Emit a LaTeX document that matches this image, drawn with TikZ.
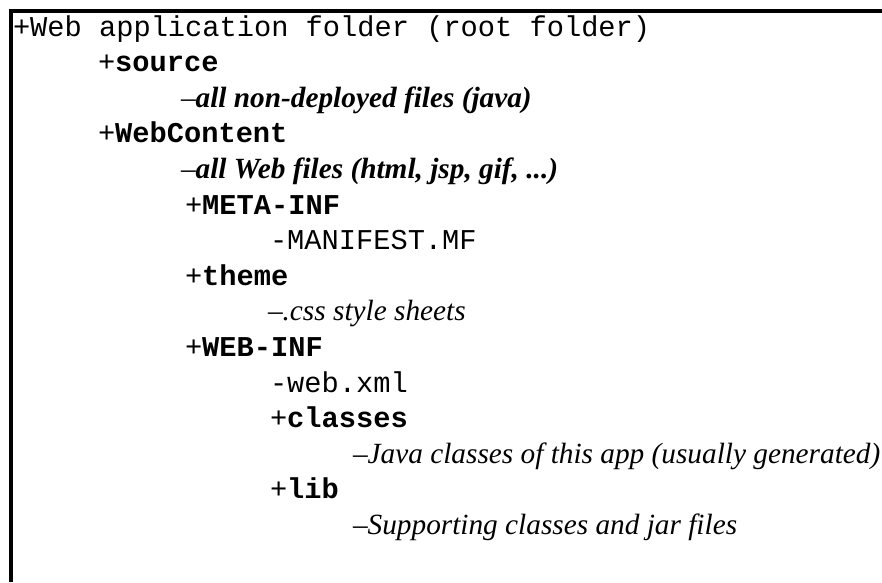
\documentclass[tikz,border=0pt]{standalone}
\usepackage{fontspec}
\setmainfont{Liberation Serif}
\setmonofont{Liberation Mono}
\begin{document}
\begin{tikzpicture}[x=1pt,y=-1pt,
  row/.style={anchor=base west,inner sep=0pt,outer sep=0pt},
  mono/.style={row,font=\fontsize{28.7}{28.7}\selectfont\ttfamily},
  ital/.style={row,font=\fontsize{29.3}{29.3}\selectfont\itshape},
  bital/.style={row,font=\fontsize{29.3}{29.3}\selectfont\bfseries\itshape}]
\useasboundingbox (0,0) rectangle (882,582);
\fill[white] (0,0) rectangle (882,582);
\draw[line width=4pt] (11,582) -- (11,11) -- (882,11);
\def\rowy#1{36+35.6*#1}
\node[mono]  (root)  at (13,{\rowy{0}})  {+Web application folder (root folder)};
\node[mono]  (src)   at (98,{\rowy{1}})  {+\textbf{source}};
\node[bital] (srcd)  at (181,{\rowy{2}}) {\mdseries\upshape–\bfseries\itshape all non-deployed files (java)};
\node[mono]  (wc)    at (98,{\rowy{3}})  {+\textbf{WebContent}};
\node[bital] (wcd)   at (181,{\rowy{4}}) {\mdseries\upshape–\bfseries\itshape all Web files (html, jsp, gif, ...)};
\node[mono]  (meta)  at (185,{\rowy{5}}) {+\textbf{META-INF}};
\node[mono]  (man)   at (270,{\rowy{6}}) {-MANIFEST.MF};
\node[mono]  (theme) at (185,{\rowy{7}}) {+\textbf{theme}};
\node[ital]  (css)   at (268,{\rowy{8}}) {\upshape–\itshape.css style sheets};
\node[mono]  (webinf) at (185,{\rowy{9}}) {+\textbf{WEB-INF}};
\node[mono]  (webxml) at (270,{\rowy{10}}) {-web.xml};
\node[mono]  (cls)   at (270,{\rowy{11}}) {+\textbf{classes}};
\node[ital]  (clsd)  at (353,{\rowy{12}}) {\upshape–\itshape Java classes of this app (usually generated)};
\node[mono]  (lib)   at (270,{\rowy{13}}) {+\textbf{lib}};
\node[ital]  (libd)  at (353,{\rowy{14}}) {\upshape–\itshape Supporting classes and jar files};
\end{tikzpicture}
\end{document}
